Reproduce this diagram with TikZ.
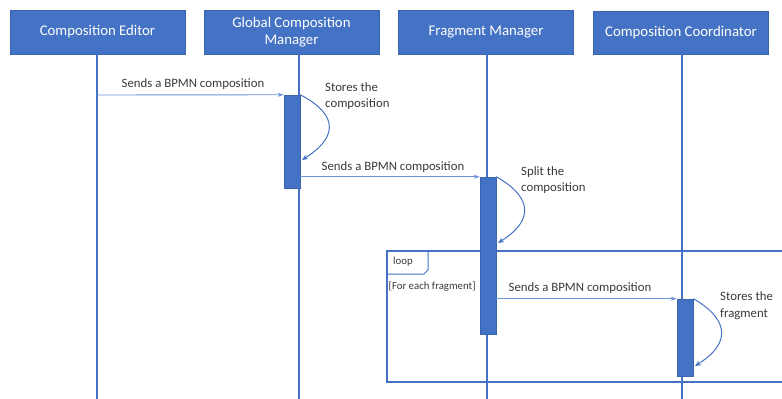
\documentclass[tikz,border=0pt]{standalone}
\usepackage{fontspec}
\setmainfont{Carlito}
\usetikzlibrary{arrows.meta}
\definecolor{boxblue}{HTML}{4472C4}
\definecolor{boxedge}{HTML}{3A64AE}
\definecolor{msgblue}{HTML}{6E93D6}
\definecolor{txtgray}{HTML}{3A3A3A}
\tikzset{
  header/.style={draw=boxedge, line width=0.8pt, fill=boxblue, text=white,
    minimum width=175pt, minimum height=44pt, inner sep=2pt, align=center,
    font=\fontsize{14.8}{17}\selectfont},
  lifeline/.style={draw=boxblue, line width=2pt},
  actbox/.style={draw=boxedge, line width=0.5pt, fill=boxblue, minimum width=16pt, inner sep=0pt},
  msg/.style={draw=msgblue, line width=0.9pt, -{Stealth[length=6pt,width=4pt]}},
  selfmsg/.style={draw=boxblue, line width=1pt, -{Stealth[length=6pt,width=5pt]}},
  msglabel/.style={text=txtgray, font=\fontsize{12.8}{15}\selectfont, inner sep=0pt},
  notelabel/.style={text=txtgray, font=\fontsize{12.8}{16.5}\selectfont, align=left, anchor=west, inner sep=0pt},
  smalllabel/.style={text=txtgray, font=\fontsize{10.8}{13}\selectfont, inner sep=0pt},
  frame/.style={draw=boxblue, line width=1.3pt}
}
\begin{document}
\begin{tikzpicture}[x=1pt, y=-1pt]
\useasboundingbox (0,0) rectangle (782,399);
\clip (0,0) rectangle (782,399);

% participants
\node[header] (ed)  at (97.5,32)  {Composition Editor};
\node[header] (gcm) at (291.5,32) {Global Composition\\Manager};
\node[header] (fm)  at (486,32)   {Fragment Manager};
\node[header, minimum height=43pt] (cc)  at (681,32.5) {Composition Coordinator};

% lifeline end points
\coordinate (edTop) at (97,54);   \coordinate (edBot) at (97,399);
\coordinate (gcmTop) at (299,54); \coordinate (gcmBot) at (299,399);
\coordinate (fmTop) at (487,54);  \coordinate (fmBot) at (487,399);
\coordinate (ccTop) at (682,54);  \coordinate (ccBot) at (682,399);

\draw[lifeline] (edTop) -- (edBot);
\draw[lifeline] (gcmTop) -- (gcmBot);
\draw[lifeline] (fmTop) -- (fmBot);
\draw[lifeline] (ccTop) -- (ccBot);

% loop fragment
\coordinate (lpA) at (387,251);
\coordinate (lpB) at (800,382);
\draw[frame] (lpA) rectangle (lpB);
\draw[draw=boxblue, line width=1pt] (387,274) -- (424,274) -- (428,270) -- (428,251);
\node[smalllabel] (lpName) at (403,262) {loop};
\node[smalllabel, anchor=west] (lpGuard) at (388.5,287) {[For each fragment]};

% activations
\node[actbox, minimum height=93pt]  (actG) at (292,141.5) {};
\node[actbox, minimum height=157pt] (actF) at (488,255.5) {};
\node[actbox, minimum height=77pt]  (actC) at (685,337.5) {};

% messages
\coordinate (m1s) at (97,95);
\draw[msg] (m1s) -- (actG.north west);
\node[msglabel] (m1l) at (193,84) {Sends a BPMN composition};

\draw[msg] (actG.east |- actF.north west) -- (actF.north west);
\node[msglabel] (m2l) at (393,167) {Sends a BPMN composition};

\draw[msg] (actF.east |- actC.north west) -- (actC.north west);
\node[msglabel] (m3l) at (580,288) {Sends a BPMN composition};

% self calls
\draw[selfmsg] (actG.north east) .. controls (320,105) and (352,128) .. (302,160);
\node[notelabel] (n1) at (325,96) {Stores the\\composition};

\draw[selfmsg] (actF.north east) .. controls (515,187) and (547,212) .. (498,243);
\node[notelabel] (n2) at (521,180) {Split the\\composition};

\draw[selfmsg] (actC.north east) .. controls (712,309) and (744,335) .. (695,366);
\node[notelabel] (n3) at (720,305.5) {Stores the\\fragment};
\end{tikzpicture}
\end{document}
